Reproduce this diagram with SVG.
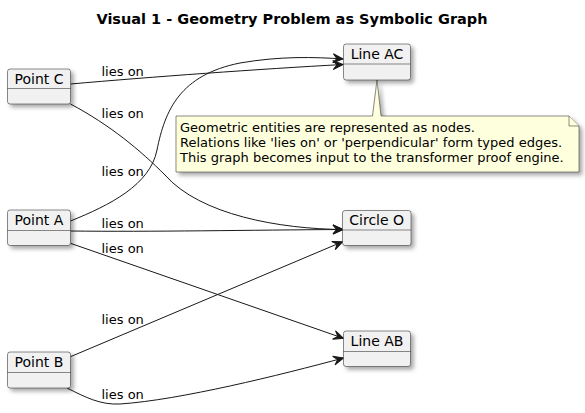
<svg xmlns="http://www.w3.org/2000/svg" width="585" height="413" viewBox="0 0 585 413">
<defs>
<filter id="sh" x="-20%" y="-20%" width="150%" height="160%">
<feDropShadow dx="3" dy="3" stdDeviation="2" flood-color="#000" flood-opacity="0.35"/>
</filter>
<marker id="arr" markerUnits="userSpaceOnUse" markerWidth="14" markerHeight="12" viewBox="-11 -6 12 12" refX="0" refY="0" orient="auto">
<path d="M0,0 L-10,-4.5 L-6,0 L-10,4.5 Z" fill="#181818" stroke="#181818" stroke-width="1"/>
</marker>
</defs>
<style>
.box{fill:#F1F1F1;stroke:#181818;stroke-width:0.5;filter:url(#sh)}
.div{stroke:#181818;stroke-width:0.5}
.nt{font-family:"DejaVu Sans",sans-serif;font-size:14px;fill:#000;text-anchor:middle}
.el{font-family:"DejaVu Sans",sans-serif;font-size:13px;fill:#000}
.edge{fill:none;stroke:#181818;stroke-width:1;marker-end:url(#arr)}
.note{fill:#FEFFDD;stroke:#181818;stroke-width:0.5}
</style>
<text x="292" y="24" font-family="DejaVu Sans, sans-serif" font-size="14.5" font-weight="bold" text-anchor="middle" fill="#000">Visual 1 - Geometry Problem as Symbolic Graph</text>

<g id="edges">
<path class="edge" d="M70.5,84 C150,77 260,69 343,64.5"/>
<path class="edge" d="M70.5,221 C110,205 150,185 157,150 C165,110 180,75 240,63 C280,56 315,57 343,59"/>
<path class="edge" d="M70.5,104 C110,125 140,150 165,175 C200,215 280,229 343,229.5"/>
<path class="edge" d="M70.5,231 C150,232 250,230 343,229.5"/>
<path class="edge" d="M70.5,243.3 L343.5,338.3"/>
<path class="edge" d="M70.5,356.7 L342.7,241.7"/>
<path class="edge" d="M67,388 C85,397 100,405 120,404 C180,400 280,375 343.5,358"/>
<text class="el" x="101.5" y="76">lies on</text>
<text class="el" x="101.5" y="118">lies on</text>
<text class="el" x="101.5" y="175.5">lies on</text>
<text class="el" x="101.5" y="228">lies on</text>
<text class="el" x="101.5" y="252.5">lies on</text>
<text class="el" x="101.5" y="324">lies on</text>
<text class="el" x="101.5" y="399">lies on</text>
</g>

<g id="pointC">
<rect class="box" x="7.5" y="69" width="63" height="35" rx="2.5"/>
<line class="div" x1="7.5" y1="88.5" x2="70.5" y2="88.5"/>
<text class="nt" x="39" y="83.5">Point C</text>
</g>
<g id="pointA">
<rect class="box" x="7.5" y="210" width="63" height="35.5" rx="2.5"/>
<line class="div" x1="7.5" y1="230.5" x2="70.5" y2="230.5"/>
<text class="nt" x="39" y="225">Point A</text>
</g>
<g id="pointB">
<rect class="box" x="7.5" y="352" width="63" height="36" rx="2.5"/>
<line class="div" x1="7.5" y1="372.5" x2="70.5" y2="372.5"/>
<text class="nt" x="39" y="367">Point B</text>
</g>
<g id="lineAC">
<rect class="box" x="343.5" y="44" width="67" height="36" rx="2.5"/>
<line class="div" x1="343.5" y1="64" x2="410.5" y2="64"/>
<text class="nt" x="377" y="59">Line AC</text>
</g>
<g id="circleO">
<rect class="box" x="342.5" y="210.5" width="68.5" height="35" rx="2.5"/>
<line class="div" x1="342.5" y1="230" x2="411" y2="230"/>
<text class="nt" x="376.7" y="225">Circle O</text>
</g>
<g id="lineAB">
<rect class="box" x="343.5" y="331" width="67" height="35.5" rx="2.5"/>
<line class="div" x1="343.5" y1="351.5" x2="410.5" y2="351.5"/>
<text class="nt" x="377" y="346">Line AB</text>
</g>

<g id="note">
<path class="note" filter="url(#sh)" d="M176,116 L372.5,116 L377,80 L381,116 L569,116 L579,126 L579,172 L176,172 Z"/>
<path class="note" d="M569,116 L569,126 L579,126"/>
<text class="el" x="180" y="132">Geometric entities are represented as nodes.</text>
<text class="el" x="180" y="147">Relations like 'lies on' or 'perpendicular' form typed edges.</text>
<text class="el" x="180" y="162">This graph becomes input to the transformer proof engine.</text>
</g>
</svg>
